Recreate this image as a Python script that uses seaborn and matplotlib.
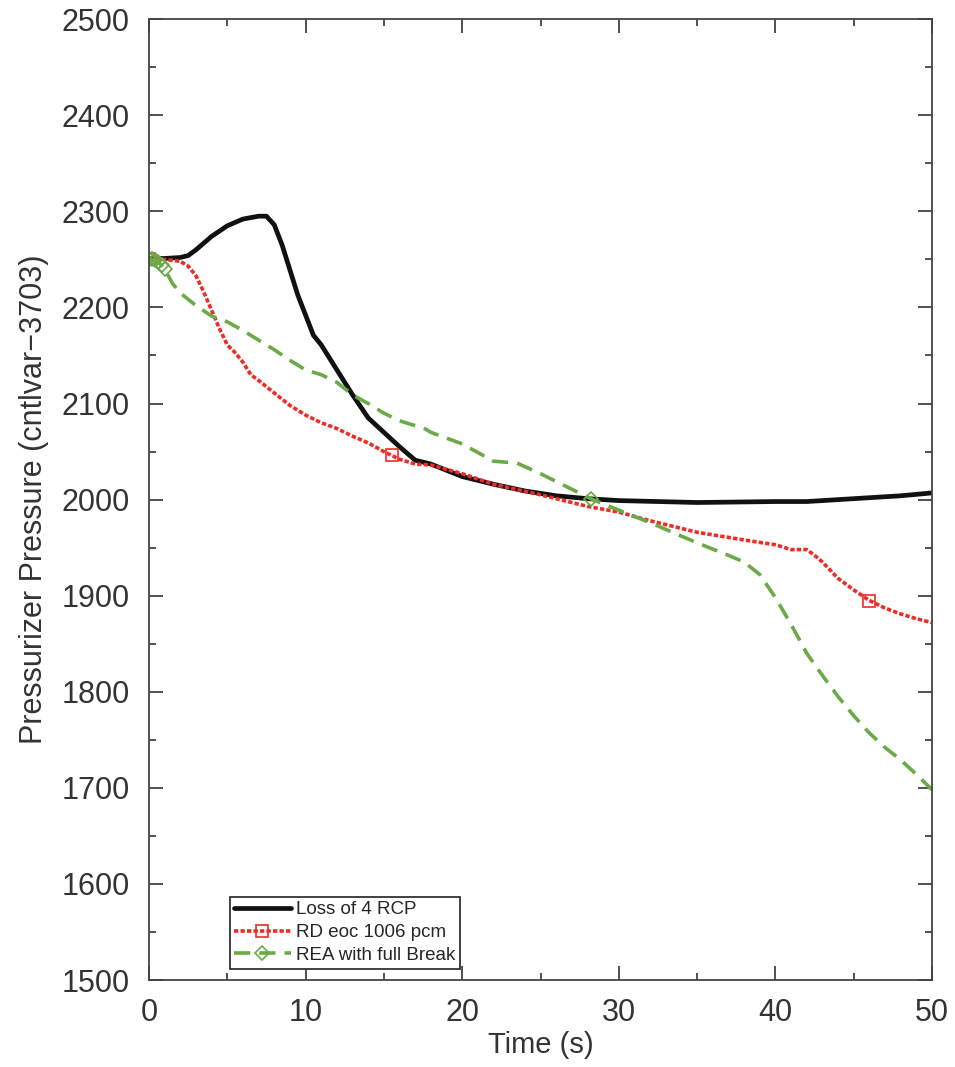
import numpy as np
import pandas as pd
import matplotlib
matplotlib.use("Agg")
import matplotlib.pyplot as plt
from matplotlib.ticker import MultipleLocator
import seaborn as sns

# Loss of 4 RCP
t_rcp = [0, 1, 2, 2.5, 3, 4, 5, 6, 7, 7.5, 8, 8.5, 9, 9.5, 10, 10.5, 11, 12, 13,
         14, 15, 16, 17, 18, 20, 22, 24, 26, 28, 30, 35, 40, 42, 45, 48, 50]
p_rcp = [2251, 2251, 2252, 2254, 2260, 2274, 2285, 2292, 2295, 2295, 2286, 2265,
         2239, 2213, 2192, 2171, 2161, 2135, 2109, 2085, 2070, 2055, 2041, 2037,
         2024, 2016, 2009, 2004, 2001, 1999, 1997, 1998, 1998, 2001, 2004, 2007]

# RD eoc 1006 pcm
t_rd = [0, 1, 2, 2.5, 3, 3.5, 4, 4.5, 5, 5.5, 6, 6.5, 7, 8, 9, 10, 11, 12, 13,
        14, 15, 15.5, 16, 17, 18, 20, 22, 25, 28, 30, 32, 35, 38, 40, 41, 42,
        42.5, 43, 44, 45, 46, 47, 48, 49, 50]
p_rd = [2250, 2250, 2248, 2243, 2233, 2216, 2197, 2178, 2161, 2153, 2143, 2130,
        2124, 2111, 2098, 2088, 2080, 2074, 2066, 2059, 2050, 2046, 2042, 2037,
        2036, 2027, 2016, 2005, 1993, 1987, 1978, 1966, 1958, 1953, 1948, 1948,
        1942, 1935, 1918, 1906, 1895, 1887, 1881, 1876, 1872]

# REA with full Break
t_rea = [0, 0.2, 0.4, 0.6, 0.8, 1.0, 1.5, 2, 3, 4, 5, 6, 7, 8, 9, 10, 11, 12,
         13, 14, 15, 16, 17, 17.5, 18, 20, 22, 23.5, 25, 28.2, 30, 32, 35, 37,
         38, 39, 40, 41, 42, 43, 44, 45, 46, 47, 48, 49, 50]
p_rea = [2250, 2250, 2249, 2247, 2244, 2240, 2225, 2215, 2202, 2191, 2185, 2176,
         2166, 2156, 2145, 2135, 2130, 2122, 2109, 2100, 2090, 2082, 2077, 2075,
         2070, 2058, 2040, 2038, 2027, 2001, 1989, 1976, 1955, 1942, 1935, 1922,
         1898, 1870, 1840, 1817, 1795, 1775, 1757, 1742, 1729, 1714, 1698]

labels = ["Loss of 4 RCP", "RD eoc 1006 pcm", "REA with full Break"]

sns.set_style("ticks")
plt.rcParams["font.family"] = ["Liberation Sans", "DejaVu Sans"]

fig = plt.figure(figsize=(9.55, 10.67), dpi=100)
ax = fig.add_axes([0.156, 0.0815, 0.82, 0.9005])

sns.lineplot(x=t_rcp, y=p_rcp, ax=ax, color="#111111", lw=3.4,
             label=labels[0], sort=False, estimator=None)
sns.lineplot(x=t_rd, y=p_rd, ax=ax, color="#ee2b24", lw=2.6,
             linestyle=(0, (1.2, 0.6)), marker="s", markersize=9,
             markerfacecolor="none", markeredgecolor="#ee2b24",
             markeredgewidth=1.2, markevery=[0, 21, 40],
             label=labels[1], sort=False, estimator=None)
sns.lineplot(x=t_rea, y=p_rea, ax=ax, color="#6aab48", lw=2.6,
             linestyle=(0, (4.5, 2.5)), marker="D", markersize=7,
             markerfacecolor="none", markeredgecolor="#6aab48",
             markeredgewidth=1.2, markevery=[0, 1, 2, 3, 4, 5, 29],
             label=labels[2], sort=False, estimator=None)

ax.set_xlim(0, 50)
ax.set_ylim(1500, 2500)
ax.xaxis.set_major_locator(MultipleLocator(10))
ax.xaxis.set_minor_locator(MultipleLocator(5))
ax.yaxis.set_major_locator(MultipleLocator(100))
ax.yaxis.set_minor_locator(MultipleLocator(50))
ax.tick_params(which="both", direction="in", top=True, right=True,
               colors="#333333", labelsize=22, width=1.2)
ax.tick_params(axis="y", which="both", pad=14)
ax.tick_params(axis="x", which="both", pad=13)
ax.tick_params(which="major", length=10)
ax.tick_params(which="minor", length=5)
for s in ax.spines.values():
    s.set_color("#444444")
    s.set_linewidth(1.3)

ax.set_xlabel("Time (s)", fontsize=21, color="#333333", labelpad=2)
ax.set_ylabel("Pressurizer Pressure (cntlvar\u22123703)", fontsize=22,
              color="#333333", labelpad=9)

leg = ax.legend(loc="lower left", bbox_to_anchor=(0.103, 0.012),
                borderaxespad=0, fontsize=13.5, frameon=True, fancybox=False,
                framealpha=1, edgecolor="#333333", handlelength=3.0,
                handletextpad=0.3, borderpad=0.25, labelspacing=0.3)
leg.get_frame().set_linewidth(1.3)

fig.savefig("out.png", dpi=100)
